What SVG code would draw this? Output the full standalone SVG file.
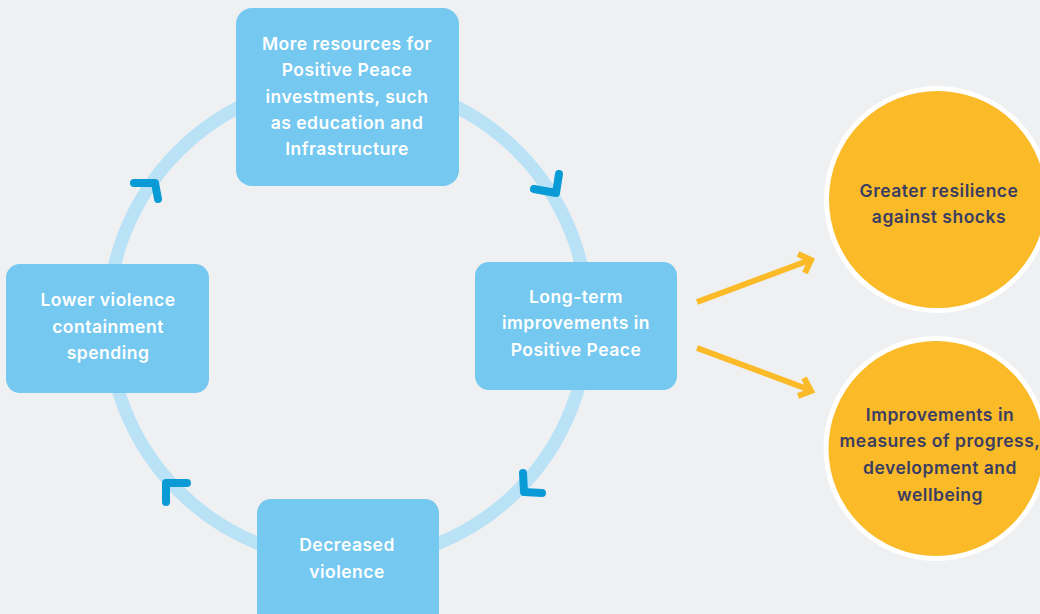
<svg xmlns="http://www.w3.org/2000/svg" width="1040" height="614" viewBox="0 0 1040 614">
<defs>
<style>
.box{fill:#75c8ef;}
.bt{font-family:Inter,"Liberation Sans",sans-serif;font-weight:600;font-size:17.5px;letter-spacing:0.5px;fill:#ffffff;text-anchor:middle;}
.ct{font-family:Inter,"Liberation Sans",sans-serif;font-weight:600;font-size:17.5px;letter-spacing:0.5px;fill:#3a3d63;text-anchor:middle;}
.chev{fill:none;stroke:#0a9ad6;stroke-width:8;stroke-linejoin:round;stroke-linecap:round;}
.ya{fill:none;stroke:#fbbb28;stroke-width:6;stroke-linecap:butt;stroke-linejoin:miter;}
.circ{fill:#fbbb28;stroke:#ffffff;stroke-width:5;}
</style>
</defs>
<rect width="1040" height="614" fill="#eff0f2"/>
<g id="connectors">
<circle cx="348" cy="321" r="240" fill="none" stroke="#bae2f7" stroke-width="13"/>
<polyline class="chev" points="534,189 556,193 559,174"/>
<polyline class="chev" points="134,183 155,183 158,199"/>
<polyline class="chev" points="187,483 166,483 166,502"/>
<polyline class="chev" points="523,473 524,492 542,493"/>
<line class="ya" x1="697" y1="302" x2="810" y2="260"/>
<polyline class="ya" points="798,254 811,260 805,273"/>
<line class="ya" x1="697" y1="348" x2="810" y2="390"/>
<polyline class="ya" points="804,378 811,391 798,396"/>
</g>
<g id="top">
<rect class="box" x="236" y="8" width="223" height="178" rx="16"/>
<text class="bt" x="347" y="50">More resources for</text>
<text class="bt" x="347" y="76">Positive Peace</text>
<text class="bt" x="347" y="103">investments, such</text>
<text class="bt" x="347" y="129">as education and</text>
<text class="bt" x="347" y="155">Infrastructure</text>
</g>
<g id="left">
<rect class="box" x="6" y="264" width="203" height="129" rx="14"/>
<text class="bt" x="108" y="306">Lower violence</text>
<text class="bt" x="108" y="333">containment</text>
<text class="bt" x="108" y="359">spending</text>
</g>
<g id="right">
<rect class="box" x="475" y="262" width="202" height="128" rx="14"/>
<text class="bt" x="576" y="303">Long-term</text>
<text class="bt" x="576" y="329">improvements in</text>
<text class="bt" x="576" y="356">Positive Peace</text>
</g>
<g id="bottom">
<rect class="box" x="257" y="499" width="182" height="130" rx="14"/>
<text class="bt" x="347" y="551">Decreased</text>
<text class="bt" x="347" y="578">violence</text>
</g>
<g id="resilience">
<circle class="circ" cx="937.5" cy="199.5" r="111"/>
<text class="ct" x="939" y="197">Greater resilience</text>
<text class="ct" x="939" y="223">against shocks</text>
</g>
<g id="progress">
<circle class="circ" cx="936" cy="448.5" r="110"/>
<text class="ct" x="940" y="421">Improvements in</text>
<text class="ct" x="940" y="447">measures of progress,</text>
<text class="ct" x="940" y="474">development and</text>
<text class="ct" x="940" y="501">wellbeing</text>
</g>
</svg>
